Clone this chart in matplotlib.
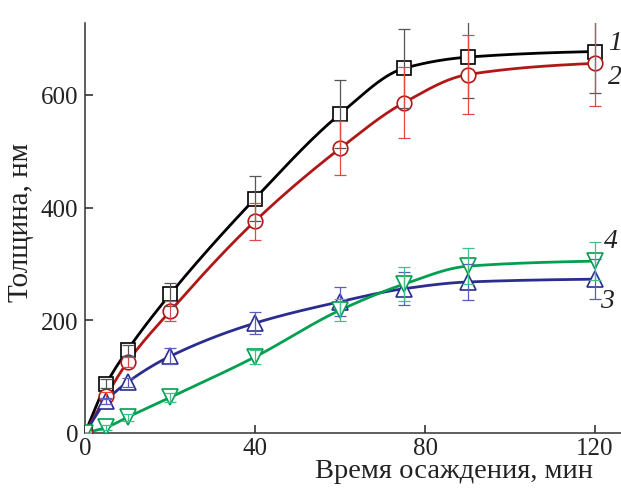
import numpy as np
import matplotlib
matplotlib.use("Agg")
import matplotlib.pyplot as plt

plt.rcParams['font.family'] = ['Liberation Serif', 'DejaVu Serif']

time_min = [0, 5, 10, 20, 40, 60, 75, 90, 120]
s1 = [0, 87, 147, 246, 416, 566, 647, 667, 677]
e1 = [0, 8, 10, 20, 40, 60, 70, 73, 73]
s2 = [0, 66, 126, 216, 376, 505, 586, 636, 656]
e2 = [0, 6, 8, 18, 33, 48, 63, 70, 75]
s3 = [0, 57, 90, 136, 195, 233, 256, 268, 273]
e3 = [0, 5, 8, 14, 20, 26, 29, 32, 35]
s4 = [0, 10, 28, 63, 135, 218, 264, 296, 305]
e4 = [0, 4, 6, 8, 12, 20, 30, 32, 34]
labels = ['1', '2', '3', '4']
xticks = [0, 40, 80, 120]
yticks = [0, 200, 400, 600]


def pchip(x, y, xs):
    x = np.asarray(x, float); y = np.asarray(y, float)
    h = np.diff(x); d = np.diff(y) / h
    n = len(x); m = np.zeros(n)
    for k in range(1, n - 1):
        if d[k - 1] * d[k] > 0:
            w1 = 2 * h[k] + h[k - 1]; w2 = h[k] + 2 * h[k - 1]
            m[k] = (w1 + w2) / (w1 / d[k - 1] + w2 / d[k])
    m[0] = d[0]; m[-1] = d[-1] * 0.5
    out = np.empty_like(xs)
    for i, xv in enumerate(xs):
        k = min(max(np.searchsorted(x, xv) - 1, 0), n - 2)
        t = (xv - x[k]) / h[k]
        h00 = 2 * t**3 - 3 * t**2 + 1; h10 = t**3 - 2 * t**2 + t
        h01 = -2 * t**3 + 3 * t**2; h11 = t**3 - t**2
        out[i] = h00 * y[k] + h10 * h[k] * m[k] + h01 * y[k + 1] + h11 * h[k] * m[k + 1]
    return out


fig = plt.figure(figsize=(6.21, 4.89), dpi=100)
ax = fig.add_axes([85 / 621, 1 - 434 / 489, 536 / 621, 410 / 489])

series = [
    (s1, e1, 's', '#000000', '#555555'),
    (s2, e2, 'o', '#b01818', '#e04848'),
    (s3, e3, '^', '#2b2d8e', '#5a5cc0'),
    (s4, e4, 'v', '#00a050', '#40c08a'),
]
xs = np.linspace(0, 120, 400)
for ys, es, mk, col, ecol in series:
    ax.plot(xs, pchip(time_min, ys, xs), color=col, lw=2.0, zorder=2)
    ax.plot(time_min, ys, linestyle='none', marker=mk, ms=10.5 if mk in 'so' else 12,
            mfc='white', mec=col, mew=1.2, zorder=3)
    ax.errorbar(time_min, ys, yerr=es, fmt='none', ecolor=ecol, elinewidth=0.9,
                capsize=4, capthick=0.9, zorder=4)

ax.set_xlim(0, 536 / 4.25)
ax.set_ylim(0, 410 / 0.5635)
ax.set_xticks(xticks)
ax.set_yticks(yticks)
ax.spines['top'].set_visible(False)
ax.spines['right'].set_visible(False)
for s in ['left', 'bottom']:
    ax.spines[s].set_linewidth(1.1)
    ax.spines[s].set_color('#333333')
ax.tick_params(direction='in', length=6, width=1.1, labelsize=18, pad=5, colors='#222222')
ax.tick_params(axis='x', pad=3)

fig.text(21 / 621, 1 - 222 / 489, 'Толщина, нм', fontsize=21, rotation=90,
         ha='center', va='center', color='#222222')
fig.text(454 / 621, 1 - 478 / 489, 'Время осаждения, мин', fontsize=20.5,
         ha='center', va='baseline', color='#222222')

label_pos = [(615, 43), (615, 78), (607, 302), (611, 242)]
for lab, (px, py) in zip(labels, label_pos):
    fig.text(px / 621, 1 - py / 489, lab, fontsize=20, style='italic',
             ha='center', va='center', color='#222222')

fig.savefig('out.png', dpi=100)
